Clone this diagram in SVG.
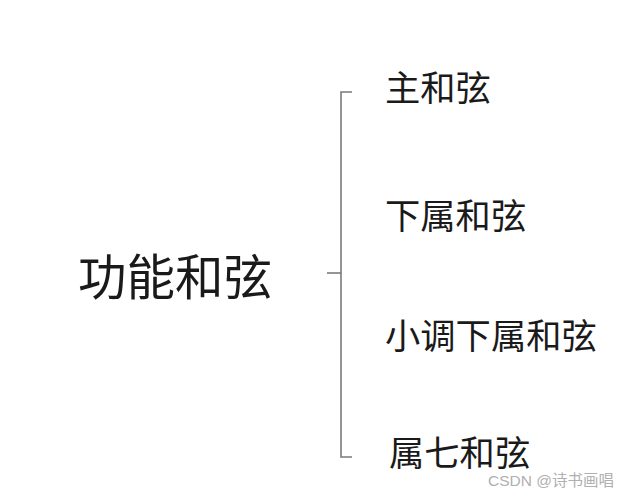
<svg xmlns="http://www.w3.org/2000/svg" width="637" height="495" viewBox="0 0 637 495">
<style>
.t{font-family:"Noto Sans CJK SC","Noto Sans",sans-serif;fill:#1a1a1a;}
.b{fill:none;stroke:#7a7a7a;stroke-width:1.6;}
.w{font-family:"Liberation Sans","Noto Sans CJK SC",sans-serif;fill:#b0b0b0;font-size:15.5px;}
</style>
<rect width="637" height="495" fill="#fff"/>
<g id="connectors">
<path class="b" d="M352,92 H341 V457 H352"/>
<path class="b" d="M327,273 H341"/>
</g>
<g id="root"><text class="t" x="78" y="295" font-size="48.5">功能和弦</text></g>
<g id="n1"><text class="t" x="385" y="101" font-size="35.3">主和弦</text></g>
<g id="n2"><text class="t" x="385" y="229" font-size="35.3">下属和弦</text></g>
<g id="n3"><text class="t" x="385" y="349" font-size="35.3">小调下属和弦</text></g>
<g id="n4"><text class="t" x="389" y="466" font-size="35.3">属七和弦</text></g>
<text class="w" x="488" y="486">CSDN @诗书画唱</text>
</svg>
